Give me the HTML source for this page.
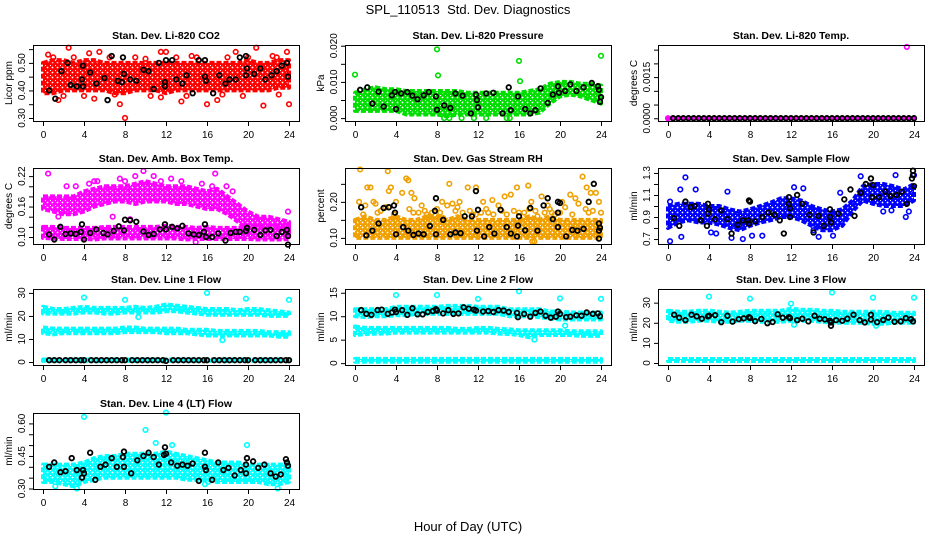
<!DOCTYPE html>
<html><head><meta charset="utf-8"><style>
html,body{margin:0;padding:0;background:#fff;}
svg{display:block;font-family:"Liberation Sans",sans-serif;}
</style></head><body>
<svg id="c" width="936" height="540" viewBox="0 0 936 540">
<text x="468" y="14" text-anchor="middle" font-size="13">SPL_110513&#160;&#160;Std. Dev. Diagnostics</text>
<text x="468" y="531" text-anchor="middle" font-size="13">Hour of Day (UTC)</text>
</svg>
<script>
// ---- shared band hours ----
const bandHours=[0,1,2,3,4,5,6,7,8,9,10,11,12,13,14,15,16,17,18,19,20,21,22,23,24];
// ---- P1 CO2 ----
const co2Lo=[0.39,0.39,0.4,0.4,0.4,0.4,0.4,0.39,0.39,0.4,0.4,0.4,0.39,0.4,0.4,0.4,0.4,0.4,0.4,0.4,0.4,0.4,0.4,0.41,0.41];
const co2Hi=[0.5,0.51,0.51,0.5,0.51,0.51,0.5,0.5,0.5,0.5,0.5,0.5,0.5,0.5,0.5,0.5,0.5,0.5,0.5,0.5,0.51,0.5,0.5,0.51,0.51];
const co2OutX=[2.5,20.8,8,7.5,21.5,24,1.5,13.5,16,17,5,11.5,0.5,5.5,11.5,12,18.8,23.8,4.5,14.5,22.4,1,3,6.5,9,10,13,15,18,20,22.8,2,4,7,10.5,14,17.5,19.5,23];
const co2OutY=[0.555,0.555,0.30,0.35,0.345,0.35,0.365,0.36,0.35,0.365,0.37,0.375,0.53,0.54,0.54,0.54,0.54,0.54,0.535,0.525,0.525,0.52,0.52,0.52,0.52,0.515,0.52,0.52,0.52,0.52,0.52,0.38,0.38,0.385,0.38,0.38,0.385,0.38,0.385];
const co2BlkX=[0.6,1.2,1.8,2.4,2.7,3.3,3.9,3.8,3.9,4.6,5.2,6,6.3,6.7,7.3,7.7,7.8,7.9,8.5,9.1,9.8,10.3,10.8,11.3,11.9,11.9,12,12.6,13,13.6,14,14.6,15.2,15.8,15.8,15.9,16.6,17.2,17.8,18.2,18.8,19.2,19.8,19.8,19.9,20.6,21.2,21.7,22.3,22.8,23.3,23.8,23.9];
const co2BlkY=[0.40,0.37,0.47,0.50,0.42,0.415,0.49,0.44,0.415,0.465,0.425,0.445,0.365,0.525,0.435,0.43,0.52,0.46,0.44,0.435,0.475,0.47,0.405,0.50,0.43,0.415,0.51,0.51,0.44,0.425,0.455,0.39,0.51,0.51,0.45,0.435,0.39,0.455,0.425,0.44,0.44,0.52,0.525,0.455,0.48,0.46,0.48,0.44,0.455,0.47,0.49,0.50,0.45];
// ---- P2 Pressure ----
const presHi=[0.007,0.008,0.0085,0.008,0.008,0.0075,0.0075,0.0075,0.0075,0.0075,0.0075,0.007,0.007,0.007,0.007,0.007,0.007,0.0075,0.008,0.0095,0.010,0.010,0.0095,0.0095,0.009];
const presLo=[0.002,0.002,0.002,0.002,0.002,0.001,0.001,0.001,0.001,0.0005,0.001,0.001,0.001,0.001,0.001,0.001,0.001,0.001,0.0015,0.004,0.006,0.0065,0.006,0.005,0.004];
const presOutX=[0,8,8.1,16,16.1,24,8.7,9.2,10.4,11.6,12.8,14.8,15.1];
const presOutY=[0.012,0.019,0.0118,0.0158,0.0102,0.0172,0,0,0,0,0,0,0];
const presBlkX=[0.5,1.2,1.7,2.3,2.8,3.6,3.9,4,4.5,5.1,5.6,6.1,6.7,7.2,7.9,8,8.7,9.3,9.8,10.5,11.3,11.8,11.9,12,12.8,13.5,14.4,15,15.2,15.9,16.6,17.1,17.6,18.1,18.8,19.3,19.8,19.9,20.5,21,21.6,22.3,23.1,23.7,23.8,23.9,24];
const presBlkY=[0.0078,0.0085,0.004,0.0073,0.0032,0.0063,0.0072,0.0025,0.0068,0.0072,0.0062,0.0052,0.0063,0.0072,0.006,0.0023,0.0035,0.0028,0.0068,0.0062,0.0013,0.0065,0.005,0.003,0.0068,0.007,0.0013,0.0085,0.0022,0.006,0.0025,0.0013,0.0022,0.0082,0.0042,0.0065,0.0088,0.007,0.0075,0.0093,0.0075,0.0085,0.0097,0.0088,0.0078,0.0045,0.0058];
// ---- P3 Temp ----
const tempLo=[0,0,0,0,0,0,0,0,0,0,0,0,0,0,0,0,0,0,0,0,0,0,0,0,0];
const tempHi=[0,0,0,0,0,0,0,0,0,0,0,0,0,0,0,0,0,0,0,0,0,0,0,0,0];
const tempOutX=[23.3,0];
const tempOutY=[0.0026,0];
const tempBlkX=[0.5,1,1.5,2,2.5,3,3.5,4,4.5,5,5.5,6,6.5,7,7.5,8,8.5,9,9.5,10,10.5,11,11.5,12,12.5,13,13.5,14,14.5,15,15.5,16,16.5,17,17.5,18,18.5,19,19.5,20,20.5,21,21.5,22,22.5,23,23.5,24];
const tempBlkY=[0,0,0,0,0,0,0,0,0,0,0,0,0,0,0,0,0,0,0,0,0,0,0,0,0,0,0,0,0,0,0,0,0,0,0,0,0,0,0,0,0,0,0,0,0,0,0,0];
// ---- P4 Amb box temp ----
const ambHi=[0.18,0.18,0.18,0.18,0.19,0.195,0.2,0.2,0.2,0.205,0.21,0.205,0.2,0.2,0.2,0.195,0.19,0.195,0.18,0.165,0.15,0.14,0.14,0.135,0.13];
const ambLo=[0.155,0.15,0.145,0.145,0.15,0.16,0.165,0.17,0.17,0.165,0.17,0.17,0.17,0.165,0.165,0.16,0.155,0.155,0.145,0.13,0.115,0.105,0.10,0.10,0.10];
const amb2Hi=[0.12,0.12,0.118,0.118,0.118,0.118,0.12,0.12,0.12,0.12,0.12,0.12,0.122,0.12,0.12,0.118,0.12,0.118,0.118,0.118,0.12,0.12,0.12,0.12,0.12];
const amb2Lo=[0.098,0.097,0.096,0.096,0.096,0.095,0.097,0.097,0.097,0.097,0.097,0.097,0.097,0.097,0.095,0.096,0.096,0.096,0.096,0.096,0.096,0.095,0.095,0.095,0.096];
const ambOutX=[0.5,2.3,3.2,5.3,9.8,10.8,16.8,1.5,6.8,23.9,17.9,8.5,14.9,4.5,5,7.5,8,9,11.5,12.5,13.5,15.5,16.5,18.5];
const ambOutY=[0.225,0.20,0.20,0.21,0.23,0.22,0.225,0.14,0.14,0.15,0.2,0.135,0.09,0.205,0.21,0.215,0.21,0.22,0.21,0.215,0.21,0.205,0.2,0.19];
const ambBlkX=[0.6,1.1,1.7,2.2,2.7,3.2,3.8,3.7,4,4.6,5.2,5.9,6.3,6.9,7.4,7.9,8,8.5,9.1,9.8,10.3,10.8,11.4,11.9,12,12.6,13.1,13.6,14.2,14.7,15.2,15.7,15.8,15.9,16.5,17.1,17.8,18.3,18.8,19.2,19.8,19.9,20.6,21.2,21.7,22.2,22.8,23.3,23.8,23.9,23.9];
const ambBlkY=[0.105,0.095,0.12,0.106,0.107,0.106,0.125,0.11,0.095,0.108,0.115,0.108,0.105,0.112,0.121,0.113,0.134,0.133,0.13,0.111,0.104,0.106,0.115,0.125,0.115,0.12,0.117,0.122,0.107,0.105,0.104,0.11,0.125,0.1,0.1,0.107,0.093,0.108,0.11,0.11,0.112,0.118,0.114,0.104,0.113,0.114,0.102,0.11,0.114,0.102,0.085];
// ---- P5 RH ----
const rhHi=[0.15,0.16,0.15,0.15,0.16,0.15,0.15,0.16,0.16,0.15,0.16,0.15,0.15,0.15,0.15,0.15,0.15,0.16,0.15,0.16,0.15,0.15,0.15,0.15,0.15];
const rhLo=[0.1,0.1,0.1,0.1,0.1,0.1,0.1,0.1,0.1,0.1,0.1,0.1,0.1,0.1,0.1,0.1,0.1,0.1,0.1,0.1,0.1,0.1,0.1,0.1,0.1];
const rhOutX=[0.5,3.2,3.5,5,5.2,9.2,11,11.8,15.8,16.9,22.2,22.6,1.2,1.5,3.3,4.6,0.4,1.8,2,3,5.5,5.8,6.5,7.5,8.5,9.5,10.2,12.5,13.4,14.6,15.2,16.5,17.2,18.2,19,20.2,21,21.5,23,23.5,23.8,24,6.2,7.3,8.6,10.5,11.5,12.3,13.5,14.3,16.2,17.8,18.5,19.5,20.5,22.5,17.3,17.5,1,2.5,4,5.3,6.8,8,9,10,11.2,12.8,14,15.5,17,18.8,20,21.8,23.2,0.8,2.2,3.8,5.7,7,8.3,9.8,11.8,13,14.8,16,17.6,19.2,21.2,22.8];
const rhOutY=[0.29,0.285,0.24,0.265,0.26,0.25,0.24,0.24,0.24,0.245,0.27,0.24,0.24,0.24,0.23,0.225,0.2,0.2,0.195,0.185,0.225,0.21,0.19,0.17,0.2,0.195,0.2,0.2,0.205,0.215,0.22,0.17,0.2,0.215,0.18,0.2,0.22,0.21,0.225,0.225,0.2,0.17,0.17,0.16,0.155,0.17,0.165,0.17,0.165,0.175,0.15,0.16,0.17,0.165,0.185,0.18,0.09,0.09,0.19,0.175,0.2,0.18,0.175,0.18,0.19,0.185,0.175,0.18,0.19,0.175,0.18,0.19,0.17,0.195,0.175,0.165,0.17,0.165,0.17,0.165,0.17,0.175,0.165,0.17,0.165,0.17,0.175,0.17,0.165,0.17];
const rhBlkX=[0.6,1.1,1.7,2.3,2.8,3.3,3.8,3.9,4,4.7,5.2,5.7,6.2,6.7,7.3,7.8,7.9,7.9,8.6,9.3,9.8,10.3,10.7,11.4,11.9,11.8,12,12.6,13.1,13.6,14.2,14.8,15.2,15.8,15.9,16,16.6,17.1,17.8,18.4,18.8,19.3,19.8,20,19.8,19.8,20.6,21.2,21.7,22.3,22.8,23.3,23.8,23.8,23.8,23.9];
const rhBlkY=[0.185,0.107,0.12,0.14,0.183,0.185,0.19,0.17,0.11,0.13,0.12,0.108,0.112,0.11,0.133,0.175,0.21,0.11,0.15,0.11,0.115,0.113,0.16,0.16,0.12,0.23,0.178,0.104,0.13,0.112,0.178,0.13,0.112,0.104,0.134,0.16,0.121,0.183,0.12,0.19,0.21,0.152,0.2,0.197,0.17,0.13,0.104,0.122,0.12,0.125,0.2,0.25,0.14,0.12,0.098,0.128];
// ---- P6 Sample flow ----
const sfHi=[1.0,1.02,1.02,1.02,1.0,1.0,0.97,0.95,0.97,1.0,1.03,1.07,1.07,1.05,1.0,0.97,0.95,0.97,1.05,1.18,1.2,1.2,1.18,1.15,1.2];
const sfLo=[0.8,0.85,0.87,0.85,0.85,0.83,0.8,0.78,0.82,0.85,0.87,0.9,0.9,0.87,0.82,0.78,0.78,0.82,0.95,1.05,1.02,1.0,1.0,1.0,1.05];
const sfOutX=[0.2,1.7,1.3,1.2,2.7,5.8,6.2,7.3,8.2,12.3,13.2,14.2,14.7,16.1,16.8,18.8,22.2,23.2,21,21.8,23.5,24,4.2,4.7,9.2,0.2];
const sfOutY=[0.68,1.26,0.72,1.15,1.15,1.13,0.71,0.7,0.73,1.17,1.16,0.78,0.72,0.73,1.12,1.27,1.28,0.9,0.95,0.96,0.95,1.28,0.76,0.75,0.73,1.04];
const sfBlkX=[0.6,1.1,1.7,2.2,2.6,3.2,3.8,3.9,4,3.9,4.6,5.2,5.8,6.2,6.8,7.3,7.8,7.9,8,7.9,8.5,9.2,9.8,10.4,10.9,11.3,11.8,11.8,11.9,11.9,12.6,13.1,13.8,14.2,14.7,15.2,15.8,15.8,15.9,16.6,17.2,17.8,18.2,18.8,19.3,19.8,19.9,20,20.6,21.2,21.7,22.3,22.8,23.3,23.8,23.9,23.9,24];
const sfBlkY=[0.89,0.82,1.04,0.99,1.0,0.87,0.82,0.93,0.97,1.02,0.88,0.96,0.88,0.75,0.83,0.87,0.87,1.05,1.04,0.84,0.86,0.9,0.94,0.92,0.87,0.75,1.08,1.02,0.98,0.9,1.1,1.02,0.92,0.76,0.91,0.82,0.97,0.9,0.85,0.93,1.06,1.15,0.91,1.12,1.2,1.25,1.08,1.19,1.08,1.13,1.09,1.1,1.13,1.02,1.25,1.32,1.28,1.18];
// ---- P7 Line1 ----
const l1aHi=[24,23,23,23.5,24,23.5,23.5,23.5,23.5,24,23.5,24,25,24.5,24,23.5,23,23,23,22.5,23,23,22.5,22,21.5];
const l1aLo=[21,21,21,21,21.5,21.5,21,21,21.5,21.5,21.5,21.5,22,22,21.5,21,20.5,20.5,20.5,20.5,20.5,20.5,20,20,20];
const l1bHi=[15,14.5,14.5,14.5,14.5,14.5,14.5,14.5,15,15,14.5,14.5,14.5,14.5,14,14,14,13.5,13.5,13.5,13.5,13.5,13,13,13];
const l1bLo=[12.5,12,12.5,12.5,12.5,12.5,12.5,12.5,13,13,13,13,12.5,12.5,12.5,12,11.5,11.5,11.5,11.5,11.5,11.5,11.5,11,11];
const l1cHi=[1.1,1.1,1.1,1.1,1.1,1.1,1.1,1.1,1.1,1.1,1.1,1.1,1.1,1.1,1.1,1.1,1.1,1.1,1.1,1.1,1.1,1.1,1.1,1.1,1.1];
const l1cLo=[0.5,0.5,0.5,0.5,0.5,0.5,0.5,0.5,0.5,0.5,0.5,0.5,0.5,0.5,0.5,0.5,0.5,0.5,0.5,0.5,0.5,0.5,0.5,0.5,0.5];
const l1OutX=[4,8,16,19.8,24,9.3,17.5];
const l1OutY=[28,27,30,27.5,27,19.5,9.5];
const l1BlkX=[0.6,1.1,1.6,2.2,2.7,3.2,3.7,4,4.7,5.2,5.7,6.2,6.7,7.2,7.7,8,8.7,9.2,9.7,10.2,10.7,11.2,11.7,12,12.7,13.2,13.7,14.2,14.7,15.2,15.7,16,16.7,17.2,17.7,18.2,18.7,19.2,19.7,20,20.7,21.2,21.7,22.2,22.7,23.2,23.7,24];
const l1BlkY=[0.8,0.8,0.8,0.8,0.8,0.8,0.8,0.8,0.8,0.8,0.8,0.8,0.8,0.8,0.8,0.8,0.8,0.8,0.8,0.8,0.8,0.8,0.8,0.5,0.8,0.8,0.8,0.8,0.8,0.8,0.8,0.8,0.8,0.8,0.8,0.8,0.8,0.8,0.8,0.8,0.8,0.8,0.8,0.8,0.8,0.8,0.8,0.8];
// ---- P8 Line2 ----
const l2aHi=[11.5,11.5,11.5,11.5,12,12,12,12,12,12.2,12.2,12.2,12,12,12,11.5,11.5,11.5,11.5,11,11,10.8,10.8,10.8,10.8];
const l2aLo=[10,9.8,10,10,10.2,10.2,10.5,10.5,10.5,10.5,10.5,10.5,10.5,10.5,10.5,10,10,10,9.8,9.5,9.3,9.3,9.3,9.3,9.3];
const l2bHi=[7.8,7.5,7.5,7.5,7.5,7.5,7.5,7.5,7.5,7.5,7.3,7.3,7.5,7.5,7.3,7.2,7,7,7,7,7,6.8,6.8,6.8,6.8];
const l2bLo=[6,6.2,6.3,6.3,6.5,6.5,6.5,6.5,6.5,6.5,6.5,6.5,6.5,6.5,6.3,6.2,6,5.5,6,6,6,6,5.8,5.8,5.8];
const l2cHi=[0.9,0.9,0.9,0.9,0.9,0.9,0.9,0.9,0.9,0.9,0.9,0.9,0.9,0.9,0.9,0.9,0.9,0.9,0.9,0.9,0.9,0.9,0.9,0.9,0.9];
const l2cLo=[0.3,0.3,0.3,0.3,0.3,0.3,0.3,0.3,0.3,0.3,0.3,0.3,0.3,0.3,0.3,0.3,0.3,0.3,0.3,0.3,0.3,0.3,0.3,0.3,0.3];
const l2OutX=[4,8,12,16,20,24,17.5,20.5];
const l2OutY=[14.5,14.5,13.7,15.3,13.8,13.7,5,8];
const l2BlkX=[0.6,1.1,1.6,2.2,2.6,3.2,3.6,3.9,4,4.6,5.1,5.6,6.1,6.6,7.1,7.6,7.9,8,8.6,9.1,9.6,10.1,10.6,11.1,11.6,11.8,12.5,13,13.5,14,14.5,15,15.8,15.9,16.5,17.1,17.6,18.1,18.6,19.1,19.6,19.8,20,20.6,21,21.6,22.1,22.6,23.2,23.7,23.9];
const l2BlkY=[11.3,10.5,10.3,11.3,11.4,10.5,10.8,11.4,10.9,11.3,10.3,11.7,10.4,10.4,10.9,11.1,11.5,11.2,10.6,11.3,10.5,10.6,11.9,11.6,11.4,11.2,11,11.1,10.9,11.3,11.2,10.9,10.7,9.8,10.5,9.9,10.7,11,10.1,9.7,9.9,11,10.5,9.8,9.9,10.2,10.1,10.8,10.5,10.6,10];
// ---- P9 Line3 ----
const l3aHi=[26,25.5,25.5,26,26,25.5,25,25.5,26,26,26,26,27,26.5,26.5,26,26,25.5,25.5,25.5,25.5,25.5,25,25,25];
const l3aLo=[21,20.5,20.5,21,21,20.5,20.5,21,21,20.5,20.5,20.5,21,21,21,20.5,20,20,20,20,19.5,19.5,20,20,20];
const l3cHi=[2,2,2,2,2,2,2,2,2,2,2,2,2,2,2,2,2,2,2,2,2,2,2,2,2];
const l3cLo=[1,1,1,1,1,1,1,1,1,1,1,1,1,1,1,1,1,1,1,1,1,1,1,1,1];
const l3OutX=[4,8,12,16,20,24,12.3,20.3];
const l3OutY=[33,32,29.5,35,32.5,32.5,19,18.5];
const l3BlkX=[0.6,1.1,1.7,2.3,2.8,3.3,3.9,4,4.6,5.2,5.8,6.3,6.9,7.4,7.9,8,8.5,9.1,9.7,10.2,10.7,11.2,11.8,11.9,12.6,13.1,13.7,14.3,14.8,15.3,15.8,15.9,15.9,16.4,17,17.5,18.1,18.7,19.2,19.8,19.8,20.4,21,21.5,22.1,22.7,23.2,23.7,23.9];
const l3BlkY=[24,22.5,21.3,24,23.2,22,23.2,23.5,23.8,20.3,23.5,20.6,21.8,22.2,22.8,22.4,20.8,21.9,19.8,20.4,24.2,22.5,22.8,22.3,21.3,22,20.7,23.5,22,21.7,21,18.5,20.2,21.3,21,22,24,21.3,20.2,21.6,24,20.3,21.4,22.6,20.5,20.7,22.3,21.8,20.7];
// ---- P10 Line4 ----
const l4Hi=[0.41,0.41,0.41,0.41,0.42,0.44,0.45,0.45,0.46,0.46,0.46,0.46,0.47,0.46,0.45,0.44,0.43,0.42,0.42,0.42,0.41,0.41,0.41,0.41,0.41];
const l4Lo=[0.33,0.33,0.32,0.31,0.33,0.34,0.35,0.35,0.35,0.35,0.35,0.35,0.35,0.35,0.34,0.34,0.34,0.33,0.33,0.33,0.33,0.33,0.32,0.32,0.33];
const l4OutX=[4,10,12,11,12.6,19.9,1.2,3.3,22.9,15.8,16.1];
const l4OutY=[0.63,0.57,0.65,0.51,0.50,0.50,0.31,0.30,0.30,0.32,0.33];
const l4BlkX=[0.6,1.1,1.7,2.2,2.8,3.3,3.8,3.9,4,4.6,5.1,5.6,6.1,6.7,7.2,7.8,7.9,7.9,8.6,9.2,9.8,10.3,10.8,11.3,11.8,11.9,12,12.5,13.1,13.6,14.1,14.6,15.2,15.8,15.8,15.9,16.5,17.1,17.6,18.1,18.7,19.3,19.8,19.8,19.9,20.5,21,21.6,22.2,22.7,23.2,23.7,23.8,23.9];
const l4BlkY=[0.40,0.42,0.375,0.38,0.44,0.385,0.35,0.385,0.37,0.465,0.34,0.40,0.41,0.44,0.40,0.445,0.40,0.47,0.37,0.43,0.45,0.465,0.445,0.41,0.455,0.49,0.46,0.42,0.405,0.41,0.405,0.415,0.335,0.465,0.40,0.385,0.34,0.42,0.385,0.395,0.36,0.385,0.41,0.37,0.44,0.425,0.395,0.41,0.37,0.355,0.365,0.435,0.42,0.405];

const NS='http://www.w3.org/2000/svg';
const svg=document.getElementById('c');
function mk(tag,attrs,parent){const e=document.createElementNS(NS,tag);for(const k in attrs)e.setAttribute(k,attrs[k]);(parent||svg).appendChild(e);return e;}
const defs=mk('defs',{});

const colL=[33,345,658], rowT=[45,168,289,413], W=266, H=76;
const panels=[
 {key:'co2',title:'Stan. Dev. Li-820 CO2',ylab:'Licor ppm',c:0,r:0,y0:0.289,y1:0.565,ticks:[0.30,0.35,0.40,0.45,0.50,0.55],labels:[[0.30,'0.30'],[0.40,'0.40'],[0.50,'0.50']],col:'#ff0000',bands:[[co2Lo,co2Hi]],ox:co2OutX,oy:co2OutY,bx:co2BlkX,by:co2BlkY},
 {key:'pressure',title:'Stan. Dev. Li-820 Pressure',ylab:'kPa',c:1,r:0,y0:-0.0008,y1:0.0202,ticks:[0,0.005,0.01,0.015,0.02],labels:[[0,'0.000'],[0.01,'0.010'],[0.02,'0.020']],col:'#00dd00',bands:[[presLo,presHi]],ox:presOutX,oy:presOutY,bx:presBlkX,by:presBlkY},
 {key:'temp',title:'Stan. Dev. Li-820 Temp.',ylab:'degrees C',c:2,r:0,y0:-0.0001,y1:0.00267,ticks:[0,0.0005,0.001,0.0015,0.002,0.0025],labels:[[0,'0.0000'],[0.0015,'0.0015']],col:'#ff00ff',bands:[[tempLo,tempHi]],ox:tempOutX,oy:tempOutY,bx:tempBlkX,by:tempBlkY},
 {key:'amb-temp',title:'Stan. Dev. Amb. Box Temp.',ylab:'degrees C',c:0,r:1,y0:0.0862,y1:0.236,ticks:[0.10,0.12,0.14,0.16,0.18,0.20,0.22],labels:[[0.10,'0.10'],[0.16,'0.16'],[0.22,'0.22']],col:'#ff00ff',bands:[[ambLo,ambHi],[amb2Lo,amb2Hi]],ox:ambOutX,oy:ambOutY,bx:ambBlkX,by:ambBlkY},
 {key:'rh',title:'Stan. Dev. Gas Stream RH',ylab:'percent',c:1,r:1,y0:0.083,y1:0.294,ticks:[0.10,0.15,0.20,0.25],labels:[[0.10,'0.10'],[0.20,'0.20']],col:'#f0a000',bands:[[rhLo,rhHi]],ox:rhOutX,oy:rhOutY,bx:rhBlkX,by:rhBlkY},
 {key:'sample-flow',title:'Stan. Dev. Sample Flow',ylab:'ml/min',c:2,r:1,y0:0.655,y1:1.345,ticks:[0.7,0.8,0.9,1.0,1.1,1.2,1.3],labels:[[0.7,'0.7'],[0.9,'0.9'],[1.1,'1.1'],[1.3,'1.3']],col:'#0000ff',bands:[[sfLo,sfHi]],ox:sfOutX,oy:sfOutY,bx:sfBlkX,by:sfBlkY},
 {key:'line1',title:'Stan. Dev. Line 1 Flow',ylab:'ml/min',c:0,r:2,y0:-1.3,y1:31.7,ticks:[0,10,20,30],labels:[[0,'0'],[10,'10'],[20,'20'],[30,'30']],col:'#00ffff',bands:[[l1aLo,l1aHi],[l1bLo,l1bHi],[l1cLo,l1cHi]],ox:l1OutX,oy:l1OutY,bx:l1BlkX,by:l1BlkY},
 {key:'line2',title:'Stan. Dev. Line 2 Flow',ylab:'ml/min',c:1,r:2,y0:-0.4,y1:15.8,ticks:[0,5,10,15],labels:[[0,'0'],[5,'5'],[10,'10'],[15,'15']],col:'#00ffff',bands:[[l2aLo,l2aHi],[l2bLo,l2bHi],[l2cLo,l2cHi]],ox:l2OutX,oy:l2OutY,bx:l2BlkX,by:l2BlkY},
 {key:'line3',title:'Stan. Dev. Line 3 Flow',ylab:'ml/min',c:2,r:2,y0:-1,y1:36.8,ticks:[0,10,20,30],labels:[[0,'0'],[10,'10'],[20,'20'],[30,'30']],col:'#00ffff',bands:[[l3aLo,l3aHi],[l3cLo,l3cHi]],ox:l3OutX,oy:l3OutY,bx:l3BlkX,by:l3BlkY},
 {key:'line4',title:'Stan. Dev. Line 4 (LT) Flow',ylab:'ml/min',c:0,r:3,y0:0.2977,y1:0.648,ticks:[0.30,0.35,0.40,0.45,0.50,0.55,0.60],labels:[[0.30,'0.30'],[0.45,'0.45'],[0.60,'0.60']],col:'#00ffff',bands:[[l4Lo,l4Hi]],ox:l4OutX,oy:l4OutY,bx:l4BlkX,by:l4BlkY}
];

panels.forEach(p=>{
  const L=colL[p.c], T=rowT[p.r], B=T+H;
  const xs=h=>L+10+h*(W-20)/24;
  const ys=v=>B-(v-p.y0)/(p.y1-p.y0)*H;
  const g=mk('g',{});
  
  
  const clipId='clip-'+p.key;
  const cp=mk('clipPath',{id:clipId},g);mk('rect',{x:L,y:T-4,width:W+4,height:H+8},cp);
  // speckle pattern
  const patId='pat-'+p.key;
  const pat=mk('pattern',{id:patId,patternUnits:'userSpaceOnUse',width:5,height:5},defs);
  mk('rect',{x:0,y:0,width:5,height:5,fill:p.col},pat);
  mk('circle',{cx:2.5,cy:2.5,r:0.9,fill:'#fff'},pat);
  mk('rect',{x:0,y:0,width:1,height:1,fill:'#fff'},pat);
  const plot=mk('g',{'clip-path':'url(#'+clipId+')'},g);
  p.bands.forEach((b,i)=>{
    const lo=b[0],hi=b[1];let pts=[];
    bandHours.forEach((h,j)=>pts.push(xs(h).toFixed(1)+','+ys(hi[j]).toFixed(1)));
    for(let j=bandHours.length-1;j>=0;j--)pts.push(xs(bandHours[j]).toFixed(1)+','+ys(lo[j]).toFixed(1));
    const poly=mk('polygon',{points:pts.join(' '),fill:'url(#'+patId+')',stroke:p.col,'stroke-width':4,'stroke-linejoin':'round','stroke-dasharray':'5 2'},plot);
    
    
  });
  p.ox.forEach((h,i)=>{
    const c=mk('circle',{cx:xs(h),cy:ys(p.oy[i]),r:2.3,fill:'none',stroke:p.col,'stroke-width':1.6},plot);
    
    
  });
  p.bx.forEach((h,i)=>{
    const c=mk('circle',{cx:xs(h),cy:ys(p.by[i]),r:2.3,fill:'none',stroke:'#000','stroke-width':1.8},plot);
    
    
  });
  const box=mk('rect',{x:L+0.5,y:T+0.5,width:W,height:H,fill:'none',stroke:'#000','stroke-width':1},g);
  
  
  const t=mk('text',{x:L+W/2,y:T-6,'text-anchor':'middle','font-size':10.5,'font-weight':'bold'},g);
  t.textContent=p.title;
  
  
  mk('line',{x1:xs(0),x2:xs(24),y1:B+0.5,y2:B+0.5,stroke:'#000'},g);
  [0,4,8,12,16,20,24].forEach(h=>{
    mk('line',{x1:xs(h)+0.5,x2:xs(h)+0.5,y1:B,y2:B+5,stroke:'#000'},g);
    const tx=mk('text',{x:xs(h)+0.5,y:B+17,'text-anchor':'middle','font-size':10},g);
    tx.textContent=String(h);
    
    
  });
  mk('line',{x1:L+0.5,x2:L+0.5,y1:ys(p.ticks[0]),y2:ys(p.ticks[p.ticks.length-1]),stroke:'#000'},g);
  p.ticks.forEach(v=>mk('line',{x1:L-4,x2:L,y1:ys(v)+0.5,y2:ys(v)+0.5,stroke:'#000'},g));
  p.labels.forEach(l=>{
    const yy=ys(l[0]);
    const tx=mk('text',{x:0,y:0,transform:'translate('+(L-8)+','+yy+') rotate(-90)','text-anchor':'middle','font-size':10},g);
    tx.textContent=l[1];
    
    
  });
  const yl=mk('text',{transform:'translate('+(L-21)+','+(T+H/2)+') rotate(-90)','text-anchor':'middle','font-size':10},g);
  yl.textContent=p.ylab;
  
  
});
</script>
</body></html>
